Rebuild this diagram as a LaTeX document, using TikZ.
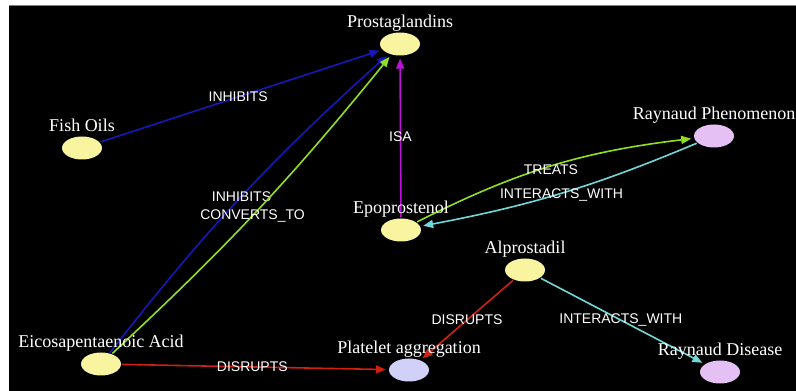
\documentclass[tikz,border=0pt]{standalone}
\usepackage{fontspec}
\setmainfont{Liberation Serif}
\newfontfamily\lblfont{Liberation Sans}
\usetikzlibrary{shapes.geometric,arrows.meta}
\definecolor{entyellow}{HTML}{F8F4A0}
\definecolor{entlav}{HTML}{D0D0F8}
\definecolor{entpink}{HTML}{E4C0F4}
\definecolor{edgeblue}{HTML}{1818B8}
\definecolor{edgegreen}{HTML}{90E020}
\definecolor{edgemag}{HTML}{C010E0}
\definecolor{edgecyan}{HTML}{70D8D8}
\definecolor{edgered}{HTML}{D02010}
\begin{document}
\begin{tikzpicture}[x=1pt,y=1pt,
  ent/.style={ellipse,minimum width=40pt,minimum height=23pt,inner sep=0pt,fill=#1,draw=none},
  entname/.style={anchor=base,text=white,inner sep=0pt,font=\fontsize{18pt}{20pt}\selectfont},
  lbl/.style={text=white,inner sep=0pt,font=\lblfont\fontsize{14pt}{16pt}\selectfont},
  arr/.style={line width=1.6pt,-{Triangle[length=10pt,width=8pt]},shorten >=3pt,shorten <=1pt}
]
\useasboundingbox (0,0) rectangle (796,391);
\clip (0,0) rectangle (796,391);
\fill[white] (0,0) rectangle (796,391);
\fill[black] (9,0) rectangle (796,384.5);
\fill[gray] (9,384.5) rectangle (796,386);

% entities
\node[ent=entyellow] (prosta) at (400,347) {};
\node[ent=entyellow] (fish) at (82,243) {};
\node[ent=entpink] (rp) at (714,255) {};
\node[ent=entyellow] (epo) at (401,161) {};
\node[ent=entyellow] (alpro) at (525,121) {};
\node[ent=entyellow] (eico) at (101,27) {};
\node[ent=entlav] (plate) at (409,21) {};
\node[ent=entpink] (rd) at (720,19) {};

% relations
\draw[arr,edgeblue] (fish) -- node[lbl,pos=0.49]{INHIBITS} (prosta);
\draw[arr,edgeblue] (eico) to[bend left=5] node[lbl,pos=0.5]{INHIBITS} (prosta);
\draw[arr,edgegreen] (eico) to[bend right=4] node[lbl,pos=0.48]{CONVERTS\_TO} (prosta);
\draw[arr,edgemag] (epo) -- node[lbl]{ISA} (prosta);
\draw[arr,edgegreen] (epo) to[bend left=10] node[lbl,yshift=-3pt]{TREATS} (rp);
\draw[arr,edgecyan] (rp) to[bend left=6] node[lbl,yshift=-2pt]{INTERACTS\_WITH} (epo);
\draw[arr,edgered] (eico) -- node[lbl,pos=0.49]{DISRUPTS} (plate);
\draw[arr,edgered] (alpro) -- node[lbl]{DISRUPTS} (plate);
\draw[arr,edgecyan] (alpro) -- node[lbl,pos=0.49]{INTERACTS\_WITH} (rd);

% names
\node[entname] (t-prosta) at ([yshift=16pt]prosta.center) {Prostaglandins};
\node[entname] (t-fish) at ([yshift=16pt]fish.center) {Fish Oils};
\node[entname] (t-rp) at ([yshift=16pt]rp.center) {Raynaud Phenomenon};
\node[entname] (t-epo) at ([yshift=16pt]epo.center) {Epoprostenol};
\node[entname] (t-alpro) at ([yshift=16pt]alpro.center) {Alprostadil};
\node[entname] (t-eico) at ([yshift=16pt]eico.center) {Eicosapentaenoic Acid};
\node[entname] (t-plate) at ([yshift=16pt]plate.center) {Platelet aggregation};
\node[entname] (t-rd) at ([yshift=16pt]rd.center) {Raynaud Disease};
\end{tikzpicture}
\end{document}
